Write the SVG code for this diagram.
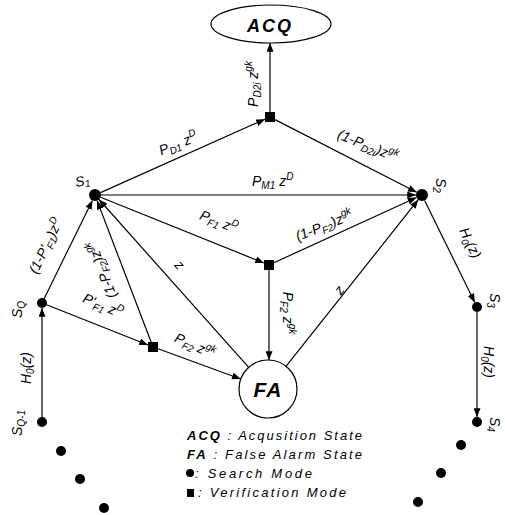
<svg xmlns="http://www.w3.org/2000/svg" width="505" height="515" viewBox="0 0 505 515">
<defs>
<style>
.e{stroke:#000;stroke-width:1.2;fill:none;marker-end:url(#ah)}
.n{fill:#000}
.lb{font-family:"Liberation Sans",Arial,sans-serif;font-size:14px;font-style:italic;fill:#000}
.s{font-size:10px}
.big{font-family:"Liberation Sans",Arial,sans-serif;font-weight:bold;font-style:italic;fill:#000}
.lg{font-family:"Liberation Sans",Arial,sans-serif;font-size:13px;font-style:italic;fill:#000}
</style>
<marker id="ah" viewBox="0 0 10 8" refX="10" refY="4" markerWidth="9" markerHeight="7" markerUnits="userSpaceOnUse" orient="auto"><path d="M0,0 L10,4 L0,8 z" fill="#000"/></marker>
</defs>
<rect width="505" height="515" fill="#fff"/>

<g id="connectors">
<line class="e" x1="100.5" y1="192.6" x2="265" y2="119.2"/>
<line class="e" x1="270" y1="112" x2="270" y2="43"/>
<line class="e" x1="275" y1="119.6" x2="416.7" y2="192.3"/>
<line class="e" x1="101" y1="195" x2="416" y2="195"/>
<line class="e" x1="100.6" y1="197.2" x2="264" y2="263"/>
<line class="e" x1="274" y1="262.7" x2="416.5" y2="197.5"/>
<line class="e" x1="269" y1="270" x2="269" y2="360"/>
<line class="e" x1="248.7" y1="367.4" x2="99" y2="199.5"/>
<line class="e" x1="286" y1="366.3" x2="418.3" y2="199.7"/>
<line class="e" x1="44.2" y1="298.5" x2="92.4" y2="200.4"/>
<line class="e" x1="46.6" y1="304.8" x2="148" y2="345"/>
<line class="e" x1="151.1" y1="342" x2="97.1" y2="200.6"/>
<line class="e" x1="158" y1="348.8" x2="240.7" y2="379"/>
<line class="e" x1="42" y1="417" x2="42" y2="308"/>
<line class="e" x1="424.6" y1="200.4" x2="474.8" y2="302.5"/>
<line class="e" x1="477" y1="312" x2="477" y2="417"/>
</g>

<g id="edge-labels">
<text class="lb" text-anchor="middle" transform="translate(180,148) rotate(-22)">P<tspan class="s" dy="3">D1</tspan><tspan dy="-3"> z</tspan><tspan class="s" dy="-6">D</tspan></text>
<text class="lb" text-anchor="middle" transform="translate(258,84) rotate(-90)">P<tspan class="s" dy="3">D2i</tspan><tspan dy="-3"> z</tspan><tspan class="s" dy="-6">gk</tspan></text>
<text class="lb" text-anchor="middle" transform="translate(366,150) rotate(22)">(1-P<tspan class="s" dy="3">D2i</tspan><tspan dy="-3">)z</tspan><tspan class="s" dy="-6">gk</tspan></text>
<text class="lb" text-anchor="start" x="252" y="186">P<tspan class="s" dy="3">M1</tspan><tspan dy="-3"> z</tspan><tspan class="s" dy="-6">D</tspan></text>
<text class="lb" text-anchor="middle" transform="translate(217,226) rotate(22)">P<tspan class="s" dy="3">F1</tspan><tspan dy="-3"> z</tspan><tspan class="s" dy="-6">D</tspan></text>
<text class="lb" text-anchor="middle" transform="translate(326,230) rotate(-22)">(1-P<tspan class="s" dy="3">F2</tspan><tspan dy="-3">)z</tspan><tspan class="s" dy="-6">gk</tspan></text>
<text class="lb" text-anchor="middle" transform="translate(283,313) rotate(90)">P<tspan class="s" dy="3">F2</tspan><tspan dy="-3"> z</tspan><tspan class="s" dy="-6">gk</tspan></text>
<text class="lb" text-anchor="middle" transform="translate(176,268) rotate(48)">z</text>
<text class="lb" text-anchor="middle" transform="translate(343,293) rotate(-52)">z</text>
<text class="lb" text-anchor="middle" transform="translate(50,248) rotate(-64)">(1-P'<tspan class="s" dy="3">F1</tspan><tspan dy="-3">)z</tspan><tspan class="s" dy="-6">D</tspan></text>
<text class="lb" text-anchor="middle" transform="translate(106,268) rotate(-111)">(1-P<tspan class="s" dy="3">F2</tspan><tspan dy="-3">)z</tspan><tspan class="s" dy="-6">gk</tspan></text>
<text class="lb" text-anchor="middle" transform="translate(101,310) rotate(23)">P'<tspan class="s" dy="3">F1</tspan><tspan dy="-3"> z</tspan><tspan class="s" dy="-6">D</tspan></text>
<text class="lb" text-anchor="middle" transform="translate(193,350) rotate(24)">P<tspan class="s" dy="3">F2</tspan><tspan dy="-3"> z</tspan><tspan class="s" dy="-6">gk</tspan></text>
<text class="lb" text-anchor="middle" transform="translate(31,368) rotate(-90)">H<tspan class="s" dy="3">0</tspan><tspan dy="-3">(z)</tspan></text>
<text class="lb" text-anchor="middle" transform="translate(466,245) rotate(64)">H<tspan class="s" dy="3">0</tspan><tspan dy="-3">(z)</tspan></text>
<text class="lb" text-anchor="middle" transform="translate(484,362) rotate(90)">H<tspan class="s" dy="3">0</tspan><tspan dy="-3">(z)</tspan></text>
</g>

<g id="ACQ">
<ellipse cx="271" cy="24" rx="60" ry="19" fill="#fff" stroke="#000" stroke-width="1.2"/>
<text class="big" x="270" y="32" font-size="18" letter-spacing="2" text-anchor="middle">ACQ</text>
</g>
<g id="FA">
<circle cx="268" cy="389" r="29" fill="#fff" stroke="#000" stroke-width="1.2"/>
<text class="big" x="268" y="397" font-size="21" letter-spacing="1" text-anchor="middle">FA</text>
</g>

<g id="S1"><circle class="n" cx="95" cy="195" r="6"/>
<text class="lb" transform="translate(76,187) rotate(-10)">S<tspan class="s" dy="2">1</tspan></text></g>
<g id="S2"><circle class="n" cx="422" cy="195" r="6"/>
<text class="lb" transform="translate(436,178) rotate(90)">S<tspan class="s" dy="3">2</tspan></text></g>
<g id="SQ"><circle class="n" cx="42" cy="303" r="5"/>
<text class="lb" transform="translate(22,318) rotate(-90)">S<tspan class="s" dy="3">Q</tspan></text></g>
<g id="SQ-1"><circle class="n" cx="42" cy="422" r="5"/>
<text class="lb" transform="translate(22,436) rotate(-90)">S<tspan class="s" dy="3">Q-1</tspan></text></g>
<g id="S3"><circle class="n" cx="477" cy="307" r="5"/>
<text class="lb" transform="translate(490,293) rotate(90)">S<tspan class="s" dy="3">3</tspan></text></g>
<g id="S4"><circle class="n" cx="477" cy="422" r="5"/>
<text class="lb" transform="translate(490,417) rotate(90)">S<tspan class="s" dy="3">4</tspan></text></g>

<g id="V-top"><rect class="n" x="265" y="112" width="10" height="10"/></g>
<g id="V-mid"><rect class="n" x="264" y="260" width="10" height="10"/></g>
<g id="V-left"><rect class="n" x="148" y="342" width="10" height="10"/></g>

<g id="dots">
<circle class="n" cx="61" cy="451" r="5"/>
<circle class="n" cx="80" cy="479" r="5"/>
<circle class="n" cx="104" cy="508" r="5"/>
<circle class="n" cx="461" cy="445" r="5"/>
<circle class="n" cx="441" cy="473" r="5"/>
<circle class="n" cx="418" cy="502" r="5"/>
</g>

<g id="legend">
<text class="lg" x="187" y="440" textLength="175" lengthAdjust="spacing"><tspan font-weight="bold">ACQ</tspan> : Acqusition State</text>
<text class="lg" x="187" y="459" textLength="175" lengthAdjust="spacing"><tspan font-weight="bold">FA</tspan> : False Alarm State</text>
<circle class="n" cx="190" cy="473" r="4"/>
<text class="lg" x="195" y="478" textLength="117" lengthAdjust="spacing">: Search Mode</text>
<rect class="n" x="187" y="489" width="7" height="8"/>
<text class="lg" x="198" y="497" textLength="148" lengthAdjust="spacing">: Verification Mode</text>
</g>
</svg>
